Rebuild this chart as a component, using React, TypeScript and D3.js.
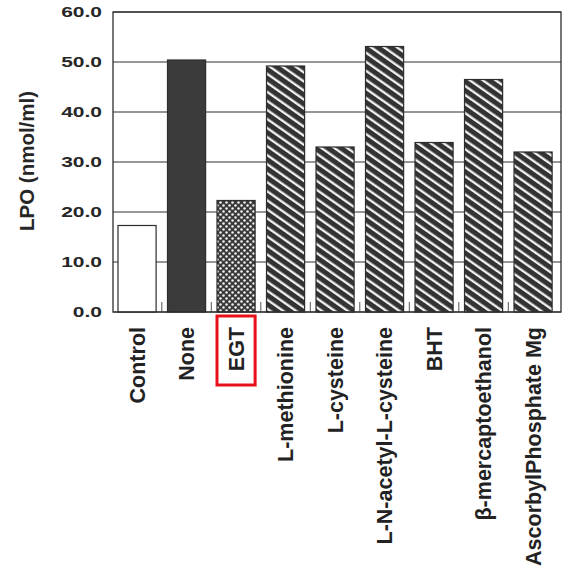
import * as d3 from 'd3';

const categories = [
  'Control',
  'None',
  'EGT',
  'L-methionine',
  'L-cysteine',
  'L-N-acetyl-L-cysteine',
  'BHT',
  'β-mercaptoethanol',
  'AscorbylPhosphate Mg',
];
const lpoValues = [17.3, 50.4, 22.3, 49.2, 33.0, 53.1, 33.9, 46.5, 32.0];
const fillKinds = ['white', 'solid', 'dots', 'hatch', 'hatch', 'hatch', 'hatch', 'hatch', 'hatch'];
const yTicks = [0, 10, 20, 30, 40, 50, 60];
const highlighted = 'EGT';

const width = 569;
const height = 576;
const plot = { left: 113, right: 561, top: 12, bottom: 312 };
const ink = '#2e2e2e';
const font = '"Liberation Sans", Arial, sans-serif';

const fillFor = (kind: string) => {
  if (kind === 'white') return '#fff';
  if (kind === 'solid') return '#3b3b3b';
  if (kind === 'dots') return 'url(#dots)';
  return 'url(#hatch)';
};

export default function App() {
  const x = d3
    .scaleBand<string>()
    .domain(categories)
    .range([plot.left, plot.right])
    .paddingInner(0.23)
    .paddingOuter(0.14)
    .align(0.36);
  const y = d3.scaleLinear().domain([0, 60]).range([plot.bottom, plot.top]);
  const bw = x.bandwidth();
  const gap = x.step() - bw;

  return (
    <svg
      width={width}
      height={height}
      style={{ position: 'absolute', left: 0, top: 0, background: '#fff' }}
      fontFamily={font}
    >
      <defs>
        <pattern
          id="hatch"
          width={7.4}
          height={7.4}
          patternUnits="userSpaceOnUse"
          patternTransform="rotate(35)"
        >
          <rect width={7.4} height={7.4} fill="#333" />
          <rect y={2.3} width={7.4} height={2.3} fill="#f4f4f4" />
        </pattern>
        <pattern id="dots" width={6} height={6} patternUnits="userSpaceOnUse">
          <rect width={6} height={6} fill="#3a3a3a" />
          <circle cx={1.5} cy={1.5} r={1.25} fill="#f2f2f2" />
          <circle cx={4.5} cy={4.5} r={1.25} fill="#f2f2f2" />
        </pattern>
      </defs>

      {/* grid lines behind the bars */}
      <g stroke={ink} strokeWidth={1.1}>
        {yTicks.map((t) => (
          <line key={t} x1={plot.left} x2={plot.right} y1={y(t)} y2={y(t)} />
        ))}
      </g>

      {/* small ticks between bars */}
      <g stroke="#555" strokeWidth={1}>
        {categories.slice(0, -1).map((c) => {
          const tx = (x(c) as number) + bw + gap / 2;
          return <line key={c} x1={tx} x2={tx} y1={plot.bottom - 10} y2={plot.bottom} />;
        })}
      </g>

      {/* bars */}
      <g stroke={ink} strokeWidth={1.2}>
        {categories.map((c, i) => (
          <rect
            key={c}
            x={x(c)}
            y={y(lpoValues[i])}
            width={bw}
            height={y(0) - y(lpoValues[i])}
            fill={fillFor(fillKinds[i])}
          />
        ))}
      </g>

      {/* frame */}
      <rect
        x={plot.left}
        y={plot.top}
        width={plot.right - plot.left}
        height={plot.bottom - plot.top}
        fill="none"
        stroke={ink}
        strokeWidth={1.3}
      />

      {/* y tick labels, stretched wide like the scan */}
      <g fill="#262626" fontWeight="bold" fontSize={15} textAnchor="end">
        {yTicks.map((t) => (
          <text key={t} transform={`translate(102,${y(t)}) scale(1.4,1)`} dy="0.36em">
            {d3.format('.1f')(t)}
          </text>
        ))}
      </g>

      {/* y axis title */}
      <text
        transform={`translate(27,161) rotate(-90)`}
        textAnchor="middle"
        dy="0.36em"
        fontSize={20.5}
        fontWeight="bold"
        fill="#262626"
      >
        LPO (nmol/ml)
      </text>

      {/* x labels */}
      <g fontSize={21.5} fontWeight="bold" fill="#222" textAnchor="end">
        {categories.map((c) => {
          const cx = (x(c) as number) + bw / 2;
          return (
            <text key={c} transform={`translate(${cx},327) rotate(-90)`} dy="0.36em">
              {c}
            </text>
          );
        })}
      </g>

      {/* highlight box */}
      <rect
        x={x(highlighted)}
        y={316}
        width={bw}
        height={69}
        fill="none"
        stroke="#e8101a"
        strokeWidth={3}
      />
    </svg>
  );
}
